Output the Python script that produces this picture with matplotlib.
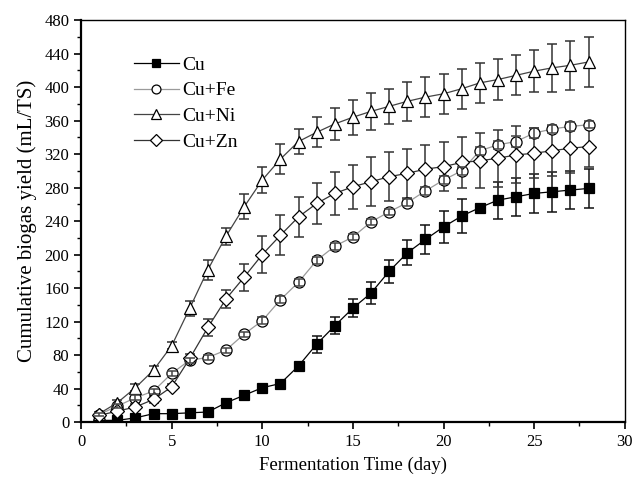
import matplotlib
matplotlib.use("Agg")
import matplotlib.pyplot as plt
from matplotlib.ticker import MultipleLocator

days = list(range(1, 29))

cu = [2, 2, 5, 10, 10, 11, 12, 23, 32, 41, 46, 67, 93, 115, 136, 154, 180, 202,
      218, 233, 246, 256, 265, 269, 273, 275, 277, 279]
cu_err = [1, 1, 1, 1, 1, 1, 1, 2, 2, 2, 2, 3, 10, 10, 11, 13, 14, 15,
          17, 19, 20, 3, 22, 23, 23, 24, 23, 23]

cu_fe = [9, 19, 29, 37, 58, 74, 77, 86, 105, 121, 146, 167, 193, 210, 221, 239,
         251, 262, 276, 289, 300, 324, 331, 335, 345, 350, 353, 355]
cu_fe_err = [2, 2, 3, 3, 3, 3, 3, 3, 3, 4, 4, 4, 4, 4, 4, 4,
             4, 4, 5, 5, 5, 5, 5, 6, 6, 5, 5, 4]

cu_ni = [10, 23, 41, 62, 91, 136, 182, 222, 257, 289, 314, 335, 346, 356, 364,
         371, 377, 383, 388, 392, 398, 405, 409, 414, 419, 423, 426, 430]
cu_ni_err = [2, 3, 4, 5, 4, 9, 12, 10, 15, 15, 18, 15, 18, 19, 21,
             22, 21, 23, 24, 24, 24, 24, 25, 24, 25, 29, 29, 30]

cu_zn = [8, 13, 18, 27, 42, 76, 113, 147, 173, 200, 223, 245, 261, 273, 281,
         287, 293, 297, 302, 305, 310, 312, 315, 319, 321, 324, 327, 329]
cu_zn_err = [2, 2, 3, 4, 4, 5, 10, 11, 16, 22, 24, 24, 25, 26, 26,
             29, 29, 29, 29, 29, 30, 33, 34, 34, 30, 30, 30, 25]

labels = ["Cu", "Cu+Fe", "Cu+Ni", "Cu+Zn"]

plt.rcParams['font.family'] = ['Liberation Serif', 'DejaVu Serif']

fig = plt.figure(figsize=(6.33, 4.84), dpi=100)
ax = fig.add_axes([0.128, 0.128, 0.859, 0.8305])

# values, errors, marker, face, line colour, errorbar colour, size, errorbar zorder
series = [
    (cu, cu_err, 's', 'black', '#000000', '#111111', 7, 2),
    (cu_fe, cu_fe_err, 'o', 'white', '#9a9a9a', '#444444', 8, 4),
    (cu_ni, cu_ni_err, '^', 'white', '#444444', '#333333', 9, 2),
    (cu_zn, cu_zn_err, 'D', 'white', '#333333', '#333333', 7.5, 2),
]

handles = []
for (vals, err, mk, fc, lc, ec, ms, ez), lab in zip(series, labels):
    ax.errorbar(days, vals, yerr=err, fmt='none', ecolor=ec, elinewidth=1.1,
                capsize=3.3, capthick=1.1, zorder=ez)
    h, = ax.plot(days, vals, marker=mk, markersize=ms, markerfacecolor=fc,
                 markeredgecolor='black', markeredgewidth=0.9, color=lc,
                 linewidth=0.9, label=lab, zorder=3)
    handles.append(h)

ax.set_xlim(0, 30)
ax.set_ylim(0, 480)
ax.xaxis.set_major_locator(MultipleLocator(5))
ax.xaxis.set_minor_locator(MultipleLocator(2.5))
ax.yaxis.set_major_locator(MultipleLocator(40))
ax.yaxis.set_minor_locator(MultipleLocator(20))
ax.tick_params(axis='both', which='major', direction='out', length=5, width=1.2,
               labelsize=12, top=False, right=False)
ax.tick_params(axis='both', which='minor', direction='out', length=3, width=1.0,
               top=False, right=False)
for sp in ax.spines.values():
    sp.set_linewidth(1.0)
ax.spines['left'].set_linewidth(1.6)
ax.spines['bottom'].set_linewidth(1.6)

ax.set_xlabel("Fermentation Time (day)", fontsize=13.5, labelpad=5)
ax.set_ylabel("Cumulative biogas yield (mL/TS)", fontsize=15, labelpad=5)

ax.legend(handles=handles, loc='upper left', bbox_to_anchor=(0.083, 0.93),
          frameon=False, fontsize=14, handlelength=2.3, handletextpad=0.2,
          labelspacing=0.42, borderaxespad=0, markerscale=0.8)

fig.savefig("out.png", dpi=100)
